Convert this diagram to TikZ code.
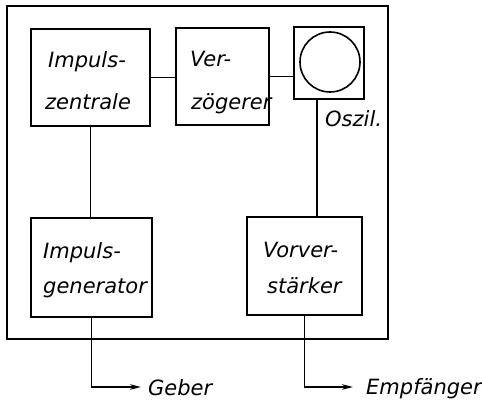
\documentclass[tikz,border=0pt]{standalone}
\usepackage{fontspec}
\setmainfont{DejaVu Sans}
\usetikzlibrary{arrows.meta}
\begin{document}
\begin{tikzpicture}[x=1pt,y=-1pt,
  blk/.style={draw,line width=2.2pt,inner sep=0pt,rectangle},
  txt/.style={anchor=base west,inner sep=0pt,font=\fontsize{21}{21}\selectfont\itshape},
  con/.style={line width=1.8pt},
  arr/.style={line width=1.8pt,-{Stealth[length=11pt,width=5.5pt]}}]
\useasboundingbox (0,0) rectangle (482,401);
% outer frame
\node[blk,minimum width=381pt,minimum height=333pt] (outer) at (197.5,172.5) {};
% blocks
\node[blk,minimum width=119pt,minimum height=97pt] (iz) at (90.5,77.5) {};
\node[blk,minimum width=93pt,minimum height=97pt] (vz) at (222.5,76.5) {};
\node[blk,minimum width=70pt,minimum height=72pt] (os) at (329,63) {};
\node[draw,circle,line width=1.6pt,minimum size=60pt,inner sep=0pt] (scr) at (330,62) {};
\node[blk,minimum width=121pt,minimum height=99pt] (ig) at (91.5,267.5) {};
\node[blk,minimum width=115pt,minimum height=98pt] (vv) at (304.5,266) {};
% texts
\node[txt] (iz1) at (48,68) {Impuls-};
\node[txt] (iz2) at (45,110) {zentrale};
\node[txt] (vz1) at (190,67) {Ver-};
\node[txt] (vz2) at (191,110) {zögerer};
\node[txt] (osl) at (325,127) {Oszil.};
\node[txt] (ig1) at (43,258) {Impuls-};
\node[txt] (ig2) at (43,293) {generator};
\node[txt] (vv1) at (263,257) {Vorver-};
\node[txt] (vv2) at (267,293) {stärker};
\node[txt] (geber) at (148,395) {Geber};
\node[txt] (empf) at (366,394) {Empfänger};
% arrow tips
\coordinate (gt) at (141,387);
\coordinate (et) at (353,387);
\coordinate (osd) at (317,99);
% connectors
\draw[con] (iz.east) -- (iz.east -| vz.west);
\draw[con] (vz.east) -- (vz.east -| os.west);
\draw[con] (iz.south) -- (iz.south |- ig.north);
\draw[con] (osd) -- (osd |- vv.north);
\draw[arr] (ig.south) |- (gt);
\draw[arr] (vv.south) |- (et);
\end{tikzpicture}
\end{document}
